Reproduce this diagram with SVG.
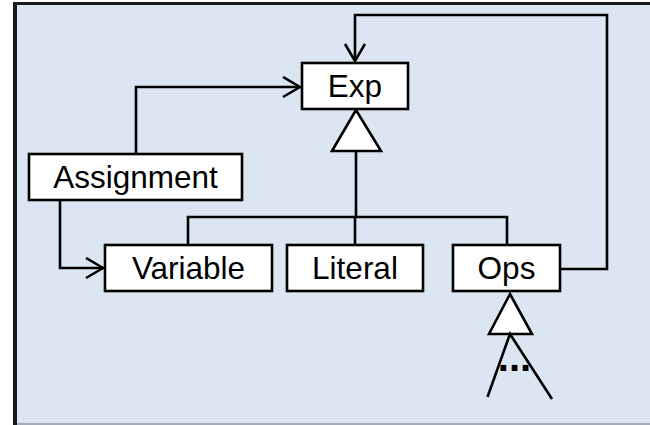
<svg xmlns="http://www.w3.org/2000/svg" width="650" height="425" viewBox="0 0 650 425">
<defs>
<style>
.box{fill:#ffffff;stroke:#000000;stroke-width:2.6}
.lbl{font-family:"Liberation Sans",Arial,sans-serif;font-size:31.5px;fill:#000000;text-anchor:middle}
.ln{fill:none;stroke:#000000;stroke-width:2.6}
.tri{fill:#ffffff;stroke:#000000;stroke-width:2.6;stroke-linejoin:miter}
</style>
<marker id="open" markerWidth="20" markerHeight="24" refX="18" refY="11" orient="auto" markerUnits="userSpaceOnUse">
<path d="M1,1 L18,11 L1,21" fill="none" stroke="#000000" stroke-width="2.6"/>
</marker>
</defs>
<rect x="0" y="0" width="650" height="425" fill="#ffffff"/>
<rect x="15" y="3.5" width="635" height="421.5" fill="#dce6f2"/>
<line x1="15" y1="3.5" x2="650" y2="3.5" stroke="#1a1a1a" stroke-width="3"/>
<line x1="15" y1="2" x2="15" y2="425" stroke="#1a1a1a" stroke-width="4"/>
<line x1="17" y1="424" x2="650" y2="424" stroke="#a3adba" stroke-width="2"/>
<g id="connectors">
<path class="ln" d="M136,154 V87 H300" marker-end="url(#open)"/>
<path class="ln" d="M60,200 V268 H103" marker-end="url(#open)"/>
<path class="ln" d="M560,269 H607 V15 H355 V61" marker-end="url(#open)"/>
<path class="ln" d="M356,151 V217"/>
<path class="ln" d="M188,245 V217 H507 V245"/>
<path class="ln" d="M355,217 V245"/>
<polygon class="tri" points="356,110 332,151 381,151"/>
<polygon class="tri" points="510,294 489,334 532,334"/>
<path class="ln" d="M487.5,397 L510,334 L552,399"/>
<text x="514.5" y="371" style="font-family:'Liberation Sans',Arial,sans-serif;font-size:40px;font-weight:bold;text-anchor:middle">...</text>
</g>
<g id="exp">
<rect class="box" x="302" y="63" width="106" height="46"/>
<text class="lbl" x="355" y="97">Exp</text>
</g>
<g id="assignment">
<rect class="box" x="29" y="154" width="213" height="46"/>
<text class="lbl" x="135.5" y="188">Assignment</text>
</g>
<g id="variable">
<rect class="box" x="105" y="245" width="167" height="46"/>
<text class="lbl" x="188.5" y="279">Variable</text>
</g>
<g id="literal">
<rect class="box" x="287" y="245" width="136" height="46"/>
<text class="lbl" x="355" y="279">Literal</text>
</g>
<g id="ops">
<rect class="box" x="453" y="245" width="107" height="46"/>
<text class="lbl" x="506.5" y="279">Ops</text>
</g>
</svg>
